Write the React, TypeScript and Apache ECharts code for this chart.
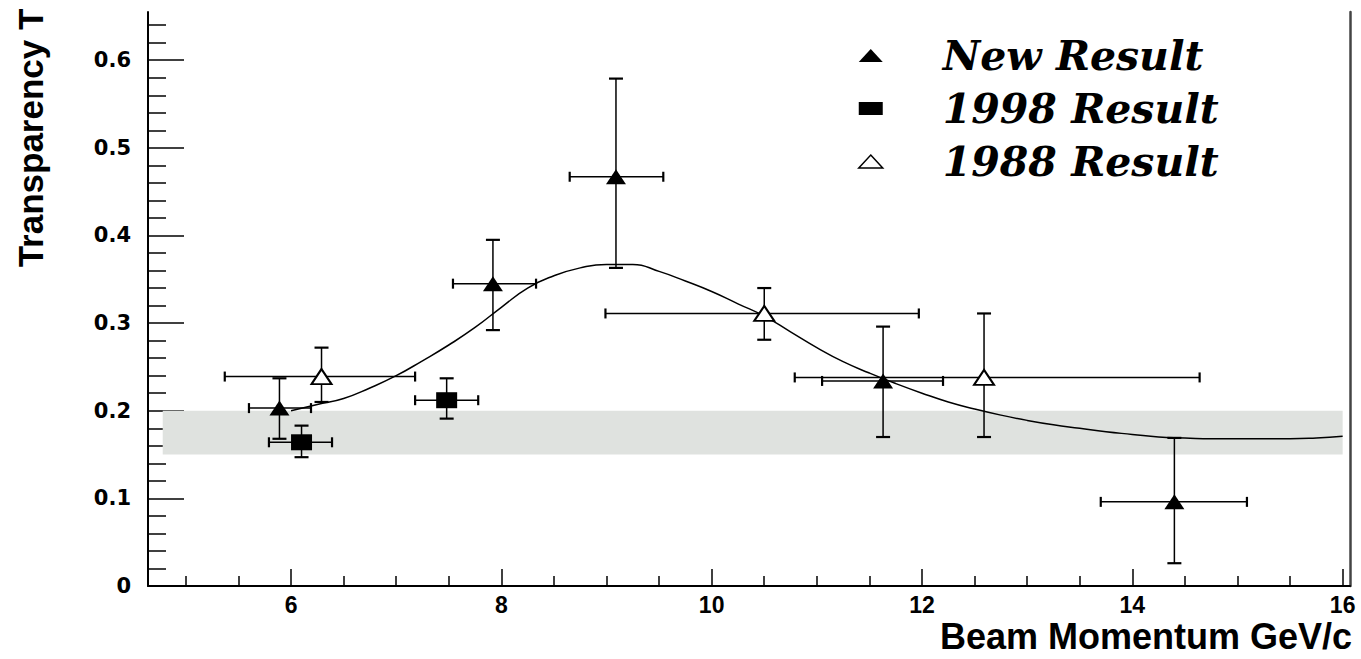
import React, { useEffect, useRef } from "react";
import * as echarts from "echarts";

// Axis ranges and ticks
const xMin = 4.64;
const xMax = 16.07;
const yMin = 0;
const yMax = 0.655;
const xMajorTicks = [6, 8, 10, 12, 14, 16];
const xMinorTicks = [5, 5.5, 6.5, 7, 7.5, 8.5, 9, 9.5, 10.5, 11, 11.5, 12.5, 13, 13.5, 14.5, 15, 15.5];
const yMajorTicks = [0, 0.1, 0.2, 0.3, 0.4, 0.5, 0.6];
const yMinorTicks = [
  0.02, 0.04, 0.06, 0.08, 0.12, 0.14, 0.16, 0.18, 0.22, 0.24, 0.26, 0.28,
  0.32, 0.34, 0.36, 0.38, 0.42, 0.44, 0.46, 0.48, 0.52, 0.54, 0.56, 0.58, 0.62, 0.64,
];

// New Result (filled triangles)
const newX = [5.89, 7.92, 9.09, 11.63, 14.4];
const newY = [0.203, 0.345, 0.467, 0.234, 0.096];
const newXLow = [5.6, 7.54, 8.65, 11.05, 13.7];
const newXHigh = [6.19, 8.33, 9.54, 12.2, 15.09];
const newYLow = [0.168, 0.292, 0.363, 0.17, 0.026];
const newYHigh = [0.237, 0.395, 0.579, 0.296, 0.169];

// 1998 Result (filled squares)
const r98X = [6.1, 7.48];
const r98Y = [0.164, 0.212];
const r98XLow = [5.79, 7.18];
const r98XHigh = [6.39, 7.78];
const r98YLow = [0.147, 0.191];
const r98YHigh = [0.183, 0.237];

// 1988 Result (open triangles)
const r88X = [6.29, 10.5, 12.59];
const r88Y = [0.239, 0.311, 0.238];
const r88XLow = [5.37, 8.99, 10.79];
const r88XHigh = [7.18, 11.97, 14.64];
const r88YLow = [0.21, 0.281, 0.17];
const r88YHigh = [0.272, 0.34, 0.311];

// Fit curve
const fitX = [
  6.0, 6.25, 6.5, 6.75, 7.0, 7.25, 7.5, 7.75, 8.0, 8.25, 8.5, 8.75, 9.0, 9.25, 9.5, 9.75,
  10.0, 10.25, 10.5, 10.75, 11.0, 11.25, 11.5, 11.75, 12.0, 12.25, 12.5, 12.75, 13.0, 13.25,
  13.5, 13.75, 14.0, 14.25, 14.5, 14.75, 15.0, 15.25, 15.5, 15.75, 16.0,
];
const fitY = [
  0.2, 0.207, 0.214, 0.226, 0.24, 0.257, 0.275, 0.295, 0.318, 0.34, 0.354, 0.363, 0.367, 0.367,
  0.359, 0.348, 0.336, 0.322, 0.308, 0.29, 0.272, 0.256, 0.243, 0.231, 0.22, 0.21, 0.202, 0.195,
  0.189, 0.184, 0.18, 0.176, 0.173, 0.17, 0.169, 0.168, 0.168, 0.168, 0.168, 0.169, 0.171,
];

// Grey band
const bandX = [4.78, 16.0];
const bandY = [0.15, 0.2];

const legendNames = ["New Result", "1998 Result", "1988 Result"];

function rows(x: number[], y: number[], xl: number[], xh: number[], yl: number[], yh: number[]) {
  return x.map((v, i) => [v, y[i], xl[i], xh[i], yl[i], yh[i]]);
}

function errorRenderItem(params: any, api: any) {
  const x = api.value(0);
  const y = api.value(1);
  const pL = api.coord([api.value(2), y]);
  const pR = api.coord([api.value(3), y]);
  const pB = api.coord([x, api.value(4)]);
  const pT = api.coord([x, api.value(5)]);
  const vc = 7;
  const hc = 5;
  const style = { stroke: "#000", lineWidth: 1.5, fill: null };
  const capStyle = { stroke: "#000", lineWidth: 2.2, fill: null };
  return {
    type: "group",
    children: [
      { type: "line", shape: { x1: pL[0], y1: pL[1], x2: pR[0], y2: pR[1] }, style },
      { type: "line", shape: { x1: pL[0], y1: pL[1] - hc, x2: pL[0], y2: pL[1] + hc }, style: capStyle },
      { type: "line", shape: { x1: pR[0], y1: pR[1] - hc, x2: pR[0], y2: pR[1] + hc }, style: capStyle },
      { type: "line", shape: { x1: pB[0], y1: pB[1], x2: pT[0], y2: pT[1] }, style },
      { type: "line", shape: { x1: pB[0] - vc, y1: pB[1], x2: pB[0] + vc, y2: pB[1] }, style: capStyle },
      { type: "line", shape: { x1: pT[0] - vc, y1: pT[1], x2: pT[0] + vc, y2: pT[1] }, style: capStyle },
    ],
  };
}

function bandRenderItem(params: any, api: any) {
  const p0 = api.coord([api.value(0), api.value(3)]);
  const p1 = api.coord([api.value(1), api.value(2)]);
  return {
    type: "rect",
    shape: { x: p0[0], y: p0[1], width: p1[0] - p0[0], height: p1[1] - p0[1] },
    style: { fill: "#dfe2df" },
  };
}

export default function App() {
  const ref = useRef<HTMLDivElement>(null);
  useEffect(() => {
    if (!ref.current) return;
    const chart = echarts.init(ref.current, undefined, { renderer: "svg" });
    const sans = "'Liberation Sans', Arial, sans-serif";
    const axisBase = { type: "value", splitLine: { show: false } };
    chart.setOption({
      animation: false,
      backgroundColor: "#ffffff",
      grid: { left: 148, right: 11, top: 12, bottom: 73, containLabel: false },
      xAxis: [
        {
          ...axisBase,
          min: xMin,
          max: xMax,
          position: "bottom",
          axisLine: { show: true, lineStyle: { color: "#000", width: 2 } },
          axisTick: { show: true, inside: true, length: 17, customValues: xMajorTicks, lineStyle: { color: "#000", width: 1.5 } },
          axisLabel: {
            customValues: xMajorTicks,
            margin: 7,
            fontSize: 23,
            fontWeight: "bold",
            fontFamily: sans,
            color: "#000",
            formatter: (v: number) => String(Math.round(v)),
          },
        },
        {
          ...axisBase,
          min: xMin,
          max: xMax,
          position: "bottom",
          axisLine: { show: false },
          axisTick: { show: true, inside: true, length: 10, customValues: xMinorTicks, lineStyle: { color: "#000", width: 1.5 } },
          axisLabel: { show: false },
        },
      ],
      yAxis: [
        {
          ...axisBase,
          min: yMin,
          max: yMax,
          position: "left",
          axisLine: { show: true, lineStyle: { color: "#000", width: 2 } },
          axisTick: { show: true, inside: true, length: 36, customValues: yMajorTicks, lineStyle: { color: "#000", width: 1.5 } },
          axisLabel: {
            customValues: yMajorTicks,
            margin: 17,
            fontSize: 21,
            fontWeight: "bold",
            fontFamily: "'DejaVu Sans', sans-serif",
            color: "#000",
            formatter: (v: number) => (v === 0 ? "0" : v.toFixed(1)),
          },
        },
        {
          ...axisBase,
          min: yMin,
          max: yMax,
          position: "left",
          axisLine: { show: false },
          axisTick: { show: true, inside: true, length: 18, customValues: yMinorTicks, lineStyle: { color: "#000", width: 1.5 } },
          axisLabel: { show: false },
        },
        {
          ...axisBase,
          min: yMin,
          max: yMax,
          position: "right",
          axisLine: { show: true, lineStyle: { color: "#444", width: 2.5 } },
          axisTick: { show: false },
          axisLabel: { show: false },
        },
      ],
      legend: {
        orient: "vertical",
        left: 858,
        top: 35,
        padding: 0,
        itemWidth: 24,
        itemHeight: 13,
        itemGap: 12,
        selectedMode: false,
        textStyle: {
          fontFamily: "'DejaVu Serif', serif",
          fontWeight: "bold",
          fontStyle: "italic",
          fontSize: 41,
          lineHeight: 41,
          color: "#000",
          padding: [0, 0, 0, 55],
        },
        data: [
          { name: legendNames[0], icon: "triangle", itemStyle: { color: "#000", opacity: 1 } },
          { name: legendNames[1], icon: "rect", itemStyle: { color: "#000", opacity: 1 } },
          { name: legendNames[2], icon: "triangle", itemStyle: { color: "#fff", borderColor: "#000", borderWidth: 1.5, opacity: 1 } },
        ],
      },
      graphic: [
        {
          type: "text",
          x: 30,
          y: 138,
          rotation: Math.PI / 2,
          style: {
            text: "Transparency T",
            align: "center",
            verticalAlign: "middle",
            fontSize: 35,
            fontWeight: "bold",
            fontFamily: sans,
            fill: "#000",
          },
        },
        {
          type: "text",
          x: 1352,
          y: 636,
          style: {
            text: "Beam Momentum GeV/c",
            align: "right",
            verticalAlign: "middle",
            fontSize: 36,
            fontWeight: "bold",
            fontFamily: sans,
            fill: "#000",
          },
        },
      ],
      series: [
        {
          name: "band",
          type: "custom",
          renderItem: bandRenderItem,
          data: [[bandX[0], bandX[1], bandY[0], bandY[1]]],
          encode: { x: [0, 1], y: [2, 3] },
          silent: true,
          z: 1,
        },
        {
          name: "fit",
          type: "line",
          data: fitX.map((x, i) => [x, fitY[i]]),
          symbol: "none",
          smooth: true,
          lineStyle: { color: "#000", width: 1.5 },
          silent: true,
          z: 2,
        },
        {
          name: "New Result errors",
          type: "custom",
          renderItem: errorRenderItem,
          data: rows(newX, newY, newXLow, newXHigh, newYLow, newYHigh),
          encode: { x: [0, 2, 3], y: [1, 4, 5] },
          z: 3,
        },
        {
          name: "1998 Result errors",
          type: "custom",
          renderItem: errorRenderItem,
          data: rows(r98X, r98Y, r98XLow, r98XHigh, r98YLow, r98YHigh),
          encode: { x: [0, 2, 3], y: [1, 4, 5] },
          z: 3,
        },
        {
          name: "1988 Result errors",
          type: "custom",
          renderItem: errorRenderItem,
          data: rows(r88X, r88Y, r88XLow, r88XHigh, r88YLow, r88YHigh),
          encode: { x: [0, 2, 3], y: [1, 4, 5] },
          z: 3,
        },
        {
          name: legendNames[0],
          type: "scatter",
          symbol: "triangle",
          symbolSize: [20, 15],
          itemStyle: { color: "#000", opacity: 1 },
          data: newX.map((x, i) => [x, newY[i]]),
          z: 4,
        },
        {
          name: legendNames[1],
          type: "scatter",
          symbol: "rect",
          symbolSize: [21, 16],
          itemStyle: { color: "#000", opacity: 1 },
          data: r98X.map((x, i) => [x, r98Y[i]]),
          z: 4,
        },
        {
          name: legendNames[2],
          type: "scatter",
          symbol: "triangle",
          symbolSize: [20, 15],
          itemStyle: { color: "#fff", borderColor: "#000", borderWidth: 2, opacity: 1 },
          data: r88X.map((x, i) => [x, r88Y[i]]),
          z: 4,
        },
      ],
    });
    return () => chart.dispose();
  }, []);
  return (
    <div
      ref={ref}
      style={{ position: "fixed", left: 0, top: 0, width: 1361, height: 659, background: "#fff" }}
    />
  );
}
